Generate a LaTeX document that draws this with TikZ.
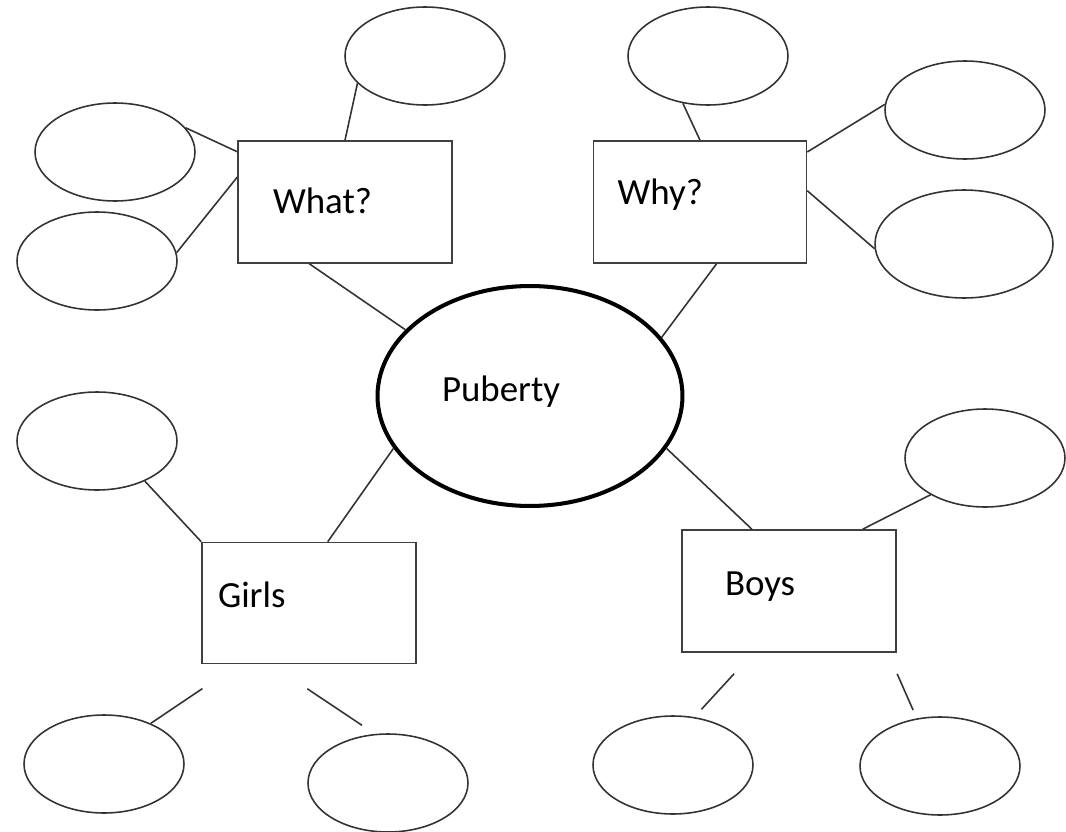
\documentclass[tikz,border=0pt]{standalone}
\usepackage{fontspec}
\setmainfont{Carlito}
\usetikzlibrary{shapes.geometric}

\tikzset{
  bubble/.style={draw=black!80, line width=0.9pt, ellipse, inner sep=0pt,
    minimum width=3.2cm, minimum height=1.96cm},
  topic/.style={draw=black!75, line width=0.9pt, rectangle, inner ysep=0pt,
    align=left, font=\fontsize{21}{24}\selectfont},
  conn/.style={draw=black!80, line width=0.9pt}
}

\begin{document}
\begin{tikzpicture}[x=0.02cm, y=-0.02cm]
    \useasboundingbox (0,0) rectangle (1066,832);

    % centre
    \node[ellipse, draw, line width=2.3pt, inner sep=0pt,
      minimum width=6.1cm, minimum height=4.4cm, align=left,
      text width=3.52cm, text height=0.6cm, text depth=0.4cm,
      font=\fontsize{21}{24}\selectfont] (pub) at (530,396) {Puberty};

    % the four topics
    \node[topic, inner xsep=0.7cm, text width=2.88cm,
      text height=1.44cm, text depth=1.0cm] (what) at (345,202) {What?};
    \node[topic, inner xsep=0.48cm, text width=3.3cm,
      text height=1.26cm, text depth=1.18cm] (why) at (700,202) {Why?};
    \node[topic, inner xsep=0.32cm, text width=3.64cm,
      text height=1.3cm, text depth=1.12cm] (girls) at (309,603) {Girls};
    \node[topic, inner xsep=0.86cm, text width=2.56cm,
      text height=1.3cm, text depth=1.14cm] (boys) at (789,591) {Boys};

    % empty bubbles
    \node[bubble] (w1) at (425,56) {};
    \node[bubble] (w2) at (115,152) {};
    \node[bubble] (w3) at (97,261) {};
    \node[bubble] (y1) at (708,56) {};
    \node[bubble] (y2) at (965,110) {};
    \node[bubble, minimum width=3.56cm, minimum height=2.16cm] (y3) at (964,244) {};
    \node[bubble] (g1) at (97,441) {};
    \node[bubble] (g2) at (104,764) {};
    \node[bubble] (g3) at (388,783) {};
    \node[bubble] (b1) at (985,458) {};
    \node[bubble] (b2) at (673,765) {};
    \node[bubble] (b3) at (940,766) {};

    % links
    \draw[conn] (what.north) -- (w1.202);
    \draw[conn] (what.155) -- (w2.19);
    \draw[conn] (what.167) -- (w3.6);
    \draw[conn] (what.240) -- (pub.152);
    \draw[conn] (why.north) -- (y1.242);
    \draw[conn] (why.25) -- (y2.176);
    \draw[conn] (why.6) -- (y3.183);
    \draw[conn] (why.285) -- (pub.24);
    \draw[conn] (girls.north west) -- (g1.320);
    \draw[conn] (girls.73) -- (pub.201);
    \draw[conn] (boys.121) -- (pub.339);
    \draw[conn] (boys.40) -- (b1.214);
    \draw[conn, shorten <=0.87cm] (girls.221) -- (g2.41);
    \draw[conn, shorten <=0.88cm, shorten >=0.31cm] (girls.238) -- (g3.105);
    \draw[conn, shorten <=0.57cm, shorten >=0.21cm] (boys.240) -- (b2.66);
    \draw[conn, shorten <=0.46cm, shorten >=0.18cm] (boys.328) -- (b3.116);
\end{tikzpicture}
\end{document}
